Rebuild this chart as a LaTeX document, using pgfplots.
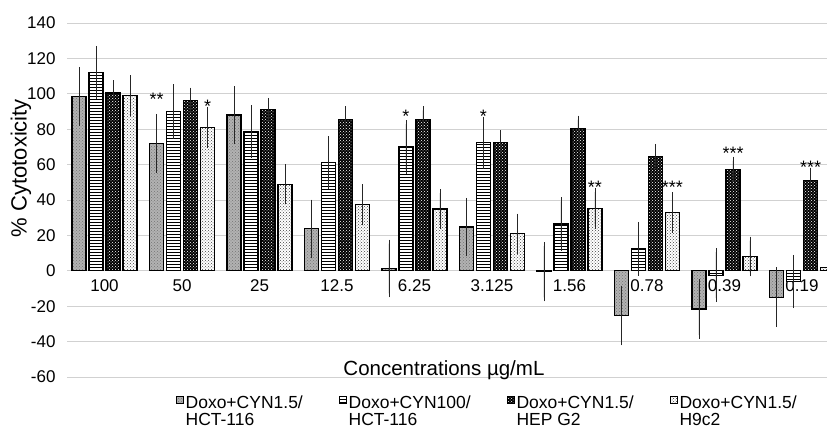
\documentclass[border=0pt]{standalone}
\usepackage{pgfplots}
\pgfplotsset{compat=1.18}
\usepackage{pgfplotstable}
\usepackage{fontspec}
\setmainfont{Liberation Sans}
\usetikzlibrary{patterns}

\pgfplotstableread{
x v1 e1 v2 e2 v3 e3 v4 e4
0 98.5 14.5 112.2 12.6 100.5 5.0 99.0 9.3
1 72.0 14.4 90.0 13.0 96.2 5.0 81.0 9.4
2 88.0 14.0 78.7 12.6 91.0 4.5 48.8 9.0
3 23.7 14.3 61.2 12.6 85.7 4.9 37.3 9.2
4 1.3 14.0 69.9 13.0 85.7 5.0 34.9 9.0
5 24.7 14.3 72.3 12.6 72.7 4.5 20.9 9.2
6 -0.5 14.5 26.4 12.8 80.4 5.0 35.2 9.2
7 -25.4 14.5 12.4 13.0 64.6 4.8 33.0 9.2
8 -21.6 14.6 -2.5 13.0 57.4 4.9 8.1 9.0
9 -14.9 14.7 -6.0 12.8 51.0 5.0 2.0 9.5
}\datatable

\pgfplotsset{
  sqlegend/.style={legend image code/.code={\draw[##1,line width=0.8pt] (0pt,0pt) rectangle (7pt,6.5pt);}},
}

\begin{document}
\begin{tikzpicture}
\useasboundingbox (0,0) rectangle (827pt,433pt);
\begin{axis}[
  at={(67pt,56pt)}, anchor=south west,
  scale only axis, width=760pt, height=354pt,
  ybar=3pt, bar width=14pt,
  xmin=-0.484, xmax=9.323,
  ymin=-60, ymax=140,
  ytick={-60,-40,...,140},
  xtick={0,...,9},
  xticklabels={100,50,25,12.5,6.25,3.125,1.56,0.78,0.39,0.19},
  axis line style={draw=none},
  major tick length=0pt,
  ymajorgrids, grid style={line width=0.8pt, black!18},
  /pgf/number format/assume math mode=true,
  ticklabel style={font=\fontsize{17}{17}\selectfont},
  yticklabel shift=8pt,
  xticklabel shift=-101pt,
  clip=false,
  xlabel={\fontsize{20.5}{20.5}\selectfont Concentrations µg/mL},
  every axis x label/.style={at={(rel axis cs:0.496,0)}, anchor=base, yshift=1pt},
  legend columns=4,
  legend cell align=left,
  legend style={at={(rel axis cs:0.139,0)}, anchor=north west, yshift=-17pt, draw=none, fill=none,
     font=\fontsize{17.5}{15.5}\selectfont,
     nodes={inner xsep=2pt, inner ysep=0pt},
     /tikz/every even column/.append style={column sep=34pt}},
  error bars/error bar style={line width=0.6pt, black!85},
  error bars/error mark options={line width=0.6pt, black!85, mark size=4pt},
]
\addplot[sqlegend, draw=black, line width=1.2pt, fill=black!30, postaction={pattern=crosshatch dots, pattern color=black!55},
  error bars/.cd, y dir=both, y explicit] table[x=x, y=v1, y error=e1] {\datatable};
\addlegendentry{\begin{tabular}[t]{@{}l@{}}Doxo+CYN1.5/\\HCT-116\end{tabular}}
\addplot[sqlegend, draw=black, line width=1.2pt, fill=white, postaction={pattern=horizontal lines, pattern color=black},
  error bars/.cd, y dir=both, y explicit] table[x=x, y=v2, y error=e2] {\datatable};
\addlegendentry{\begin{tabular}[t]{@{}l@{}}Doxo+CYN100/\\HCT-116\end{tabular}}
\addplot[sqlegend, draw=black, line width=1.2pt, fill=black, postaction={pattern=crosshatch dots, pattern color=white},
  error bars/.cd, y dir=both, y explicit] table[x=x, y=v3, y error=e3] {\datatable};
\addlegendentry{\begin{tabular}[t]{@{}l@{}}Doxo+CYN1.5/\\HEP G2\end{tabular}}
\addplot[sqlegend, draw=black, line width=1.2pt, fill=white, postaction={pattern=crosshatch dots, pattern color=black!75},
  error bars/.cd, y dir=both, y explicit] table[x=x, y=v4, y error=e4] {\datatable};
\addlegendentry{\begin{tabular}[t]{@{}l@{}}Doxo+CYN1.5/\\H9c2\end{tabular}}

\node[rotate=90, anchor=center, inner sep=0pt, font=\fontsize{22}{22}\selectfont] at (rel axis cs:-0.0605,0.59) {\% Cytotoxicity};

\begin{scope}[every node/.style={font=\fontsize{18}{18}\selectfont, anchor=base, inner sep=0pt}]
\node at (axis cs:0.671,93.2) {**};
\node at (axis cs:1.329,89.3) {*};
\node at (axis cs:3.890,84.0) {*};
\node at (axis cs:4.890,83.7) {*};
\node at (axis cs:6.329,43.8) {**};
\node at (axis cs:7.329,43.8) {***};
\node at (axis cs:8.110,62.7) {***};
\node at (axis cs:9.110,55.1) {***};
\end{scope}
\end{axis}
\end{tikzpicture}
\end{document}
